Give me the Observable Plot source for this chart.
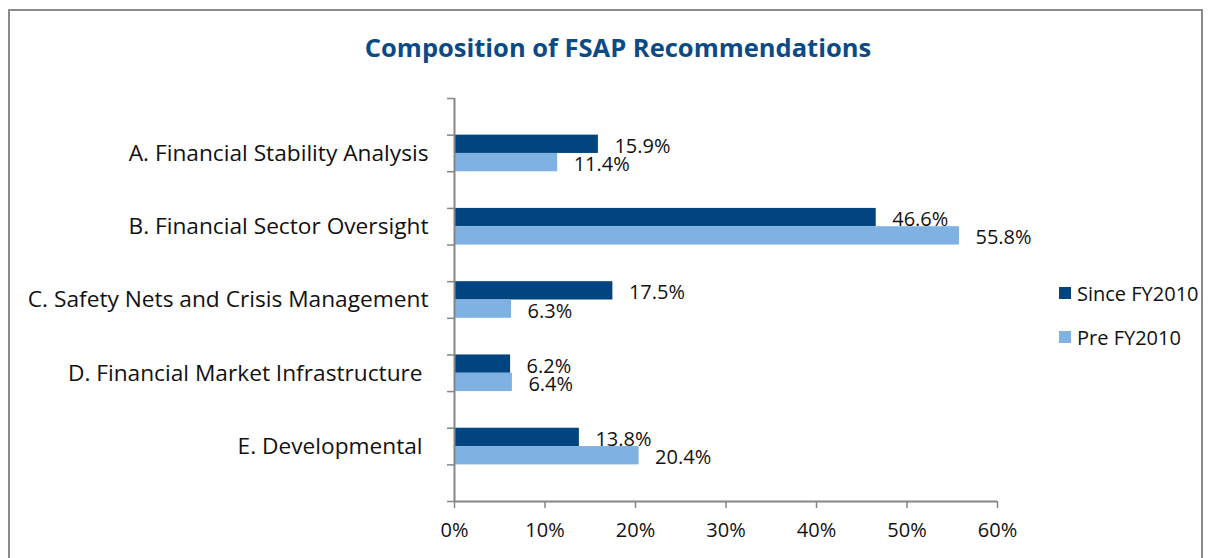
<!DOCTYPE html>
<html>
<head>
<meta charset="utf-8">
<script src="https://cdn.jsdelivr.net/npm/d3@7"></script>
<script src="https://cdn.jsdelivr.net/npm/@observablehq/plot@0.6"></script>
<style>
  html, body { margin: 0; padding: 0; background: #fff; }
  body { width: 1212px; height: 558px; position: relative; overflow: hidden; font-family: "Open Sans", "Noto Sans", sans-serif; }
  #frame { position: absolute; left: 8px; top: 9px; width: 1195px; height: 700px; border: 2px solid #8a8a8a; border-bottom: none; box-sizing: border-box; }
  #title { position: absolute; left: 0; width: 1236px; top: 30px; text-align: center; font-size: 25.5px; font-weight: 700; color: #0b4a84; }
  #chart { position: absolute; left: 0; top: 0; }
  #legend { position: absolute; left: 1059px; top: 279px; font-size: 20px; color: #111; }
  .item { display: flex; align-items: center; height: 28px; margin-bottom: 16px; }
  .sw { width: 12px; height: 12px; margin-right: 6px; }
</style>
</head>
<body>
<div id="frame"></div>
<div id="title">Composition of FSAP Recommendations</div>
<div id="chart"></div>
<div id="legend"></div>
<script>
const categories = [
  "A. Financial Stability Analysis",
  "B. Financial Sector Oversight",
  "C. Safety Nets and Crisis Management",
  "D. Financial Market Infrastructure\u00a0",
  "E. Developmental\u00a0"
];
const seriesNames = ["Since FY2010", "Pre FY2010"];
const sinceFY2010 = [0.159, 0.466, 0.175, 0.062, 0.138];
const preFY2010 = [0.114, 0.558, 0.063, 0.064, 0.204];
const xTicks = [0, 0.1, 0.2, 0.3, 0.4, 0.5, 0.6];
const colors = ["#00457f", "#7fb2e3"];

// Excel layout: each category occupies one slot, separated by empty slots (gap = 1 slot)
const slots = categories.length * 2 + 1;
const rows = [];
categories.forEach((c, i) => {
  [sinceFY2010, preFY2010].forEach((vals, s) => {
    const y1 = 2 * i + 1 + s * 0.5;
    rows.push({category: c, series: seriesNames[s], value: vals[i], y1, y2: y1 + 0.5, yc: y1 + 0.25});
  });
});
const labels = categories.map((c, i) => ({category: c, y: 2 * i + 1.5}));

const chart = Plot.plot({
  width: 1212,
  height: 558,
  marginLeft: 454,
  marginRight: 215,
  marginTop: 98,
  marginBottom: 57,
  style: {fontFamily: "'Open Sans', 'Noto Sans', sans-serif", background: "transparent", overflow: "visible"},
  x: {domain: [0, 0.6]},
  y: {domain: [0, slots], reverse: true},
  color: {domain: seriesNames, range: colors},
  marks: [
    Plot.rectX(rows, {x1: 0, x2: "value", y1: "y1", y2: "y2", fill: "series"}),
    Plot.axisX({ticks: xTicks, tickFormat: d3.format(".0%"), tickSize: 7, tickPadding: 14, fontSize: 20, stroke: "#868686", strokeWidth: 1.5, color: "#111", label: null}),
    Plot.axisY({ticks: d3.range(0, slots + 1), tickFormat: () => "", tickSize: 7, stroke: "#868686", strokeWidth: 1.5, label: null}),
    Plot.ruleX([0], {stroke: "#868686", strokeWidth: 2}),
    Plot.ruleY([slots], {stroke: "#868686", strokeWidth: 2}),
    Plot.text(labels, {x: 0, y: "y", text: "category", textAnchor: "end", dx: -26, fontSize: 22.7, fill: "#111"}),
    Plot.text(rows, {x: "value", y: "yc", text: d => d3.format(".1%")(d.value), textAnchor: "start", dx: 16, dy: 2, fontSize: 20, fill: "#111"})
  ]
});
document.getElementById("chart").append(chart);

const legend = document.getElementById("legend");
seriesNames.forEach((s, i) => {
  const item = document.createElement("div");
  item.className = "item";
  item.innerHTML = `<div class="sw" style="background:${colors[i]}"></div><span>${s}</span>`;
  legend.append(item);
});
</script>
</body>
</html>
